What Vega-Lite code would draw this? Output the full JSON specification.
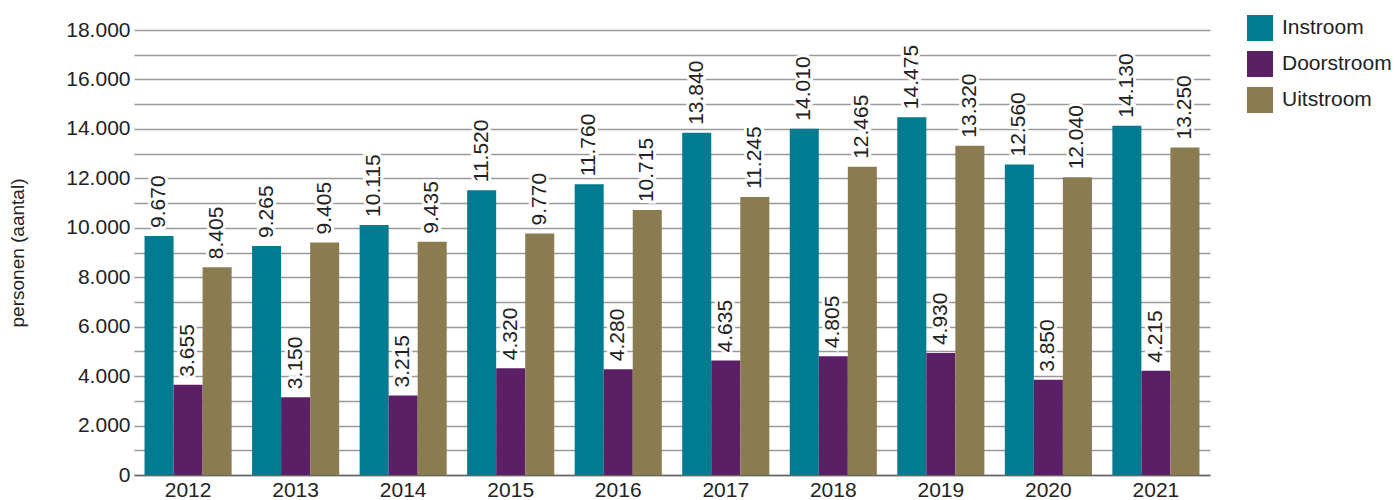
{
  "$schema": "https://vega.github.io/schema/vega-lite/v6.json",
  "width": 1076,
  "height": 445,
  "autosize": {"type": "none"},
  "padding": {"left": 134, "top": 30, "right": 187, "bottom": 25},
  "background": "white",
  "config": {
    "locale": {"number": {"decimal": ",", "thousands": ".", "grouping": [3], "currency": ["€", ""]}},
    "view": {"stroke": null},
    "font": "Liberation Sans"
  },
  "data": {"values": [
    {"jaar": "2012", "reeks": "Instroom", "waarde": 9670},
    {"jaar": "2012", "reeks": "Doorstroom", "waarde": 3655},
    {"jaar": "2012", "reeks": "Uitstroom", "waarde": 8405},
    {"jaar": "2013", "reeks": "Instroom", "waarde": 9265},
    {"jaar": "2013", "reeks": "Doorstroom", "waarde": 3150},
    {"jaar": "2013", "reeks": "Uitstroom", "waarde": 9405},
    {"jaar": "2014", "reeks": "Instroom", "waarde": 10115},
    {"jaar": "2014", "reeks": "Doorstroom", "waarde": 3215},
    {"jaar": "2014", "reeks": "Uitstroom", "waarde": 9435},
    {"jaar": "2015", "reeks": "Instroom", "waarde": 11520},
    {"jaar": "2015", "reeks": "Doorstroom", "waarde": 4320},
    {"jaar": "2015", "reeks": "Uitstroom", "waarde": 9770},
    {"jaar": "2016", "reeks": "Instroom", "waarde": 11760},
    {"jaar": "2016", "reeks": "Doorstroom", "waarde": 4280},
    {"jaar": "2016", "reeks": "Uitstroom", "waarde": 10715},
    {"jaar": "2017", "reeks": "Instroom", "waarde": 13840},
    {"jaar": "2017", "reeks": "Doorstroom", "waarde": 4635},
    {"jaar": "2017", "reeks": "Uitstroom", "waarde": 11245},
    {"jaar": "2018", "reeks": "Instroom", "waarde": 14010},
    {"jaar": "2018", "reeks": "Doorstroom", "waarde": 4805},
    {"jaar": "2018", "reeks": "Uitstroom", "waarde": 12465},
    {"jaar": "2019", "reeks": "Instroom", "waarde": 14475},
    {"jaar": "2019", "reeks": "Doorstroom", "waarde": 4930},
    {"jaar": "2019", "reeks": "Uitstroom", "waarde": 13320},
    {"jaar": "2020", "reeks": "Instroom", "waarde": 12560},
    {"jaar": "2020", "reeks": "Doorstroom", "waarde": 3850},
    {"jaar": "2020", "reeks": "Uitstroom", "waarde": 12040},
    {"jaar": "2021", "reeks": "Instroom", "waarde": 14130},
    {"jaar": "2021", "reeks": "Doorstroom", "waarde": 4215},
    {"jaar": "2021", "reeks": "Uitstroom", "waarde": 13250}
  ]},
  "encoding": {
    "x": {
      "field": "jaar", "type": "nominal",
      "scale": {"paddingInner": 0.19, "paddingOuter": 0.098},
      "axis": {"title": null, "labelAngle": 0, "labelFontSize": 21, "labelColor": "#222", "ticks": false, "labelPadding": 4, "domainColor": "#666", "domainWidth": 1.5}
    },
    "xOffset": {"field": "reeks", "type": "nominal", "sort": ["Instroom", "Doorstroom", "Uitstroom"], "scale": {"paddingInner": 0, "paddingOuter": 0}},
    "y": {
      "field": "waarde", "type": "quantitative",
      "scale": {"domain": [0, 18000], "nice": false},
      "axis": {
        "title": "personen (aantal)", "titleFontSize": 19, "titleFontWeight": "normal", "titleColor": "#222", "titlePadding": 38,
        "values": [0,1000,2000,3000,4000,5000,6000,7000,8000,9000,10000,11000,12000,13000,14000,15000,16000,17000,18000],
        "format": ",d",
        "labelExpr": "datum.value % 2000 == 0 ? datum.label : ''",
        "labelFontSize": 21, "labelColor": "#222", "labelPadding": 4,
        "domain": false, "ticks": false,
        "gridColor": "#999", "gridWidth": 1.5
      }
    }
  },
  "layer": [
    {
      "mark": {"type": "bar"},
      "encoding": {
        "color": {
          "field": "reeks", "type": "nominal",
          "sort": ["Instroom", "Doorstroom", "Uitstroom"],
          "scale": {"domain": ["Instroom", "Doorstroom", "Uitstroom"], "range": ["#007B8F", "#5B1F66", "#8A7B50"]},
          "legend": {
            "title": null, "orient": "none", "legendX": 1113, "legendY": -15,
            "symbolType": "square", "symbolSize": 676, "symbolStrokeWidth": 0, "symbolOpacity": 1,
            "labelFontSize": 21, "labelColor": "#222", "rowPadding": 10, "labelOffset": 9
          }
        }
      }
    },
    {
      "mark": {"type": "text", "angle": -90, "align": "left", "baseline": "middle", "dx": 8, "fontSize": 21, "stroke": "white", "strokeWidth": 6, "fill": "white"},
      "encoding": {"text": {"field": "waarde", "type": "quantitative", "format": ",d"}}
    },
    {
      "mark": {"type": "text", "angle": -90, "align": "left", "baseline": "middle", "dx": 8, "fontSize": 21, "fill": "#222"},
      "encoding": {"text": {"field": "waarde", "type": "quantitative", "format": ",d"}}
    }
  ]
}
